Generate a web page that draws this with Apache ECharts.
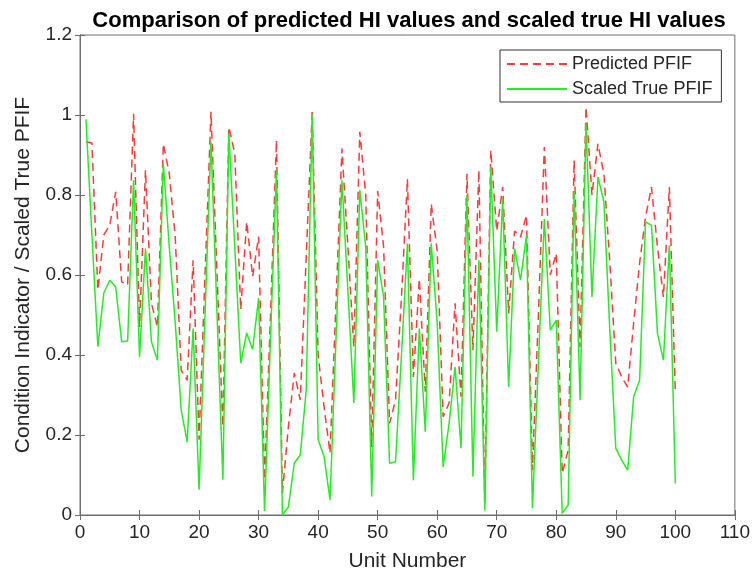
<!DOCTYPE html>
<html>
<head>
<meta charset="utf-8">
<script src="https://cdn.jsdelivr.net/npm/echarts@6/dist/echarts.min.js"></script>
<style>html,body{margin:0;padding:0;background:#fff;}#c{width:753px;height:577px;}</style>
</head>
<body>
<div id="c"></div>
<script>
var titleText = 'Comparison of predicted HI values and scaled true HI values';
var xName = 'Unit Number';
var yName = 'Condition Indicator / Scaled True PFIF';
var seriesNames = ['Predicted PFIF', 'Scaled True PFIF'];
var units = [];
for (var u = 1; u <= 100; u++) units.push(u);

var predicted = [
 0.933,0.93,0.563,0.70,0.725,0.808,0.583,0.575,1.003,0.47,
 0.862,0.529,0.47,0.928,0.853,0.695,0.362,0.337,0.637,0.188,
 0.60,1.008,0.61,0.221,0.97,0.904,0.513,0.733,0.596,0.696,
 0.088,0.50,0.937,0.055,0.22,0.355,0.288,0.645,1.008,0.40,
 0.27,0.155,0.53,0.916,0.67,0.42,0.958,0.80,0.17,0.81,
 0.67,0.229,0.287,0.545,0.84,0.345,0.59,0.308,0.778,0.66,
 0.246,0.28,0.529,0.296,0.853,0.412,0.862,0.03,0.912,0.71,
 0.82,0.504,0.71,0.695,0.75,0.112,0.50,0.92,0.60,0.654,
 0.104,0.162,0.887,0.42,1.02,0.80,0.928,0.853,0.63,0.379,
 0.345,0.32,0.48,0.63,0.745,0.82,0.67,0.545,0.82,0.304
];
var scaledTrue = [
 0.989,0.70,0.421,0.555,0.587,0.57,0.433,0.435,0.837,0.395,
 0.666,0.433,0.387,0.878,0.67,0.479,0.262,0.183,0.466,0.063,
 0.50,0.933,0.51,0.088,0.954,0.67,0.38,0.455,0.414,0.542,
 0.01,0.44,0.862,0.0,0.02,0.13,0.15,0.313,1.0,0.188,
 0.146,0.038,0.44,0.837,0.56,0.28,0.812,0.67,0.046,0.637,
 0.545,0.129,0.133,0.40,0.679,0.087,0.466,0.208,0.679,0.48,
 0.12,0.229,0.37,0.167,0.80,0.096,0.637,0.012,0.87,0.458,
 0.79,0.32,0.666,0.587,0.70,0.017,0.38,0.74,0.462,0.487,
 0.004,0.025,0.81,0.287,0.978,0.545,0.845,0.783,0.46,0.167,
 0.137,0.112,0.296,0.337,0.733,0.724,0.454,0.387,0.674,0.079
];

function pairs(vals){ return units.map(function(x,i){ return [x, vals[i]]; }); }

var axisCol = '#6e6e6e', txtCol = '#262626', font = 'Liberation Sans, Arial, sans-serif';
var chart = echarts.init(document.getElementById('c'));
chart.setOption({
  animation: false,
  backgroundColor: '#fff',
  title: { text: titleText, left: 404, textAlign: 'center', top: 5,
    textStyle: { fontFamily: font, fontWeight: 'bold', fontSize: 22, color: '#000' } },
  grid: { left: 80, right: 16, top: 35, bottom: 62, show: true, borderColor: axisCol, borderWidth: 1 },
  legend: {
    data: seriesNames, orient: 'vertical', left: 500, top: 50,
    backgroundColor: '#fff', borderColor: '#333', borderWidth: 1,
    padding: [5, 9, 4, 6], itemWidth: 60, itemHeight: 14, itemGap: 7,
    itemStyle: { opacity: 0 },
    textStyle: { fontFamily: font, fontSize: 18, color: txtCol }
  },
  xAxis: [{
    type: 'value', min: 0, max: 110, interval: 10,
    name: xName, nameLocation: 'middle', nameGap: 36,
    nameTextStyle: { fontFamily: font, fontSize: 21, color: txtCol },
    axisLine: { show: true, lineStyle: { color: axisCol } },
    axisTick: { show: true, inside: true, length: 5, lineStyle: { color: axisCol } },
    axisLabel: { fontFamily: font, fontSize: 19, color: txtCol, margin: 8 },
    splitLine: { show: false }
  }, {
    type: 'value', min: 0, max: 110, interval: 10, position: 'top',
    axisLine: { show: true, lineStyle: { color: axisCol } },
    axisTick: { show: true, inside: true, length: 5, lineStyle: { color: axisCol } },
    axisLabel: { show: false }, splitLine: { show: false }
  }],
  yAxis: [{
    type: 'value', min: 0, max: 1.2, interval: 0.2,
    name: yName, nameLocation: 'middle', nameGap: 46,
    nameTextStyle: { fontFamily: font, fontSize: 21, color: txtCol },
    axisLine: { show: true, lineStyle: { color: axisCol } },
    axisTick: { show: true, inside: true, length: 5, lineStyle: { color: axisCol } },
    axisLabel: { fontFamily: font, fontSize: 19, color: txtCol, margin: 8 },
    splitLine: { show: false }
  }, {
    type: 'value', min: 0, max: 1.2, interval: 0.2, position: 'right',
    axisLine: { show: true, lineStyle: { color: axisCol } },
    axisTick: { show: true, inside: true, length: 5, lineStyle: { color: axisCol } },
    axisLabel: { show: false }, splitLine: { show: false }
  }],
  series: [{
    name: seriesNames[0], type: 'line', data: pairs(predicted),
    symbol: 'none', showSymbol: false, color: '#ff3a3a',
    lineStyle: { color: '#ff3a3a', width: 1.5, type: [8, 5] }
  }, {
    name: seriesNames[1], type: 'line', data: pairs(scaledTrue),
    symbol: 'none', showSymbol: false, color: '#22ee22',
    lineStyle: { color: '#22ee22', width: 1.5, type: 'solid' }
  }]
});
</script>
</body>
</html>
